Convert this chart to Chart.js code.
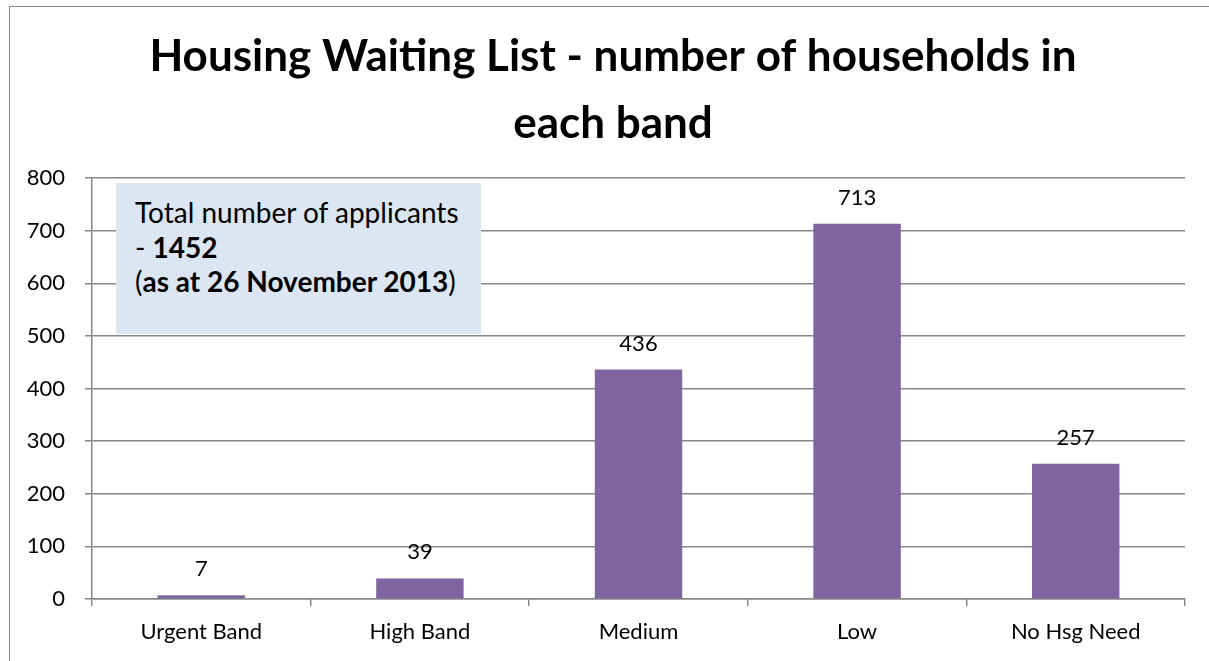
<!DOCTYPE html>
<html>
<head>
<meta charset="utf-8">
<script src="https://cdn.jsdelivr.net/npm/chart.js@4.4.0/dist/chart.umd.min.js"></script>
<style>
    html, body { margin: 0; padding: 0; background: #fff; overflow: hidden; }
    #wrap { position: relative; width: 1209px; height: 661px; overflow: hidden; }
    #chart { position: absolute; left: 0; top: 0; }
    #frame {
        position: absolute; left: 9px; top: 6px; width: 1300px; height: 700px;
        border-top: 1px solid #868686; border-left: 1px solid #868686;
        pointer-events: none;
    }
    #note {
        position: absolute; left: 116px; top: 183px; width: 346px; height: 139px;
        background: #dce6f2; padding: 12px 0 0 19px;
        font-family: Lato, "Open Sans", sans-serif; font-size: 28px; line-height: 34.5px;
        color: #000;
    }
</style>
</head>
<body>
<div id="wrap">
    <canvas id="chart" width="1226" height="661"></canvas>
    <div id="frame"></div>
    <div id="note">Total number of applicants<br>- <b>1452</b><br>(<b>as at 26 November 2013</b>)</div>
</div>
<script>
var bandNames = ["Urgent Band", "High Band", "Medium", "Low", "No Hsg Need"];
var householdCounts = [7, 39, 436, 713, 257];
var yTickValues = [0, 100, 200, 300, 400, 500, 600, 700, 800];
var titleLines = ["Housing Waiting List - number of households in", "each band"];

var barColor = "#8064A2";
var lineColor = "#878787";
var fontStack = "Lato, 'Open Sans', sans-serif";

/* value labels above each bar */
const valueLabels = {
    id: "valueLabels",
    afterDatasetsDraw(chart) {
        var ctx = chart.ctx;
        ctx.save();
        ctx.font = "22px " + fontStack;
        ctx.fillStyle = "#000";
        ctx.textAlign = "center";
        ctx.textBaseline = "alphabetic";
        chart.getDatasetMeta(0).data.forEach((bar, i) => {
            ctx.fillText(String(householdCounts[i]), bar.x, bar.y - 19);
        });
        ctx.restore();
    }
};

new Chart(document.getElementById("chart"), {
    type: "bar",
    data: {
        labels: bandNames,
        datasets: [{
            data: householdCounts,
            backgroundColor: barColor,
            borderWidth: 0,
            categoryPercentage: 1.0,
            barPercentage: 0.4
        }]
    },
    options: {
        responsive: false,
        animation: false,
        layout: { padding: 0 },
        plugins: {
            legend: { display: false },
            tooltip: { enabled: false },
            title: {
                display: true,
                text: titleLines,
                color: "#000",
                font: { family: fontStack, size: 44, weight: "bold", lineHeight: 1.523 },
                padding: { top: 23, bottom: 21 }
            }
        },
        scales: {
            x: {
                offset: true,
                grid: {
                    offset: true,
                    drawOnChartArea: false,
                    drawTicks: true,
                    tickLength: 7,
                    color: lineColor,
                    lineWidth: 1.5
                },
                border: { display: true, color: lineColor, width: 1.5 },
                ticks: {
                    color: "#000",
                    padding: 13,
                    font: { family: fontStack, size: 22 }
                },
                afterFit: s => { s.height = 62; }
            },
            y: {
                min: 0,
                max: 800,
                grid: {
                    color: lineColor,
                    lineWidth: 1.5,
                    drawTicks: true,
                    tickLength: 7
                },
                border: { display: true, color: lineColor, width: 1.5 },
                ticks: {
                    color: "#000",
                    padding: 20,
                    font: { family: fontStack, size: 22 }
                },
                afterBuildTicks: s => { s.ticks = yTickValues.map(v => ({ value: v })); },
                afterFit: s => { s.width = 92; }
            },
            // empty strip on the right so the title centres on the whole frame
            spacer: {
                type: "linear",
                position: "right",
                grid: { display: false },
                border: { display: false },
                ticks: { display: false },
                afterFit: s => { s.width = 41; }
            }
        }
    },
    plugins: [valueLabels]
});
</script>
</body>
</html>
